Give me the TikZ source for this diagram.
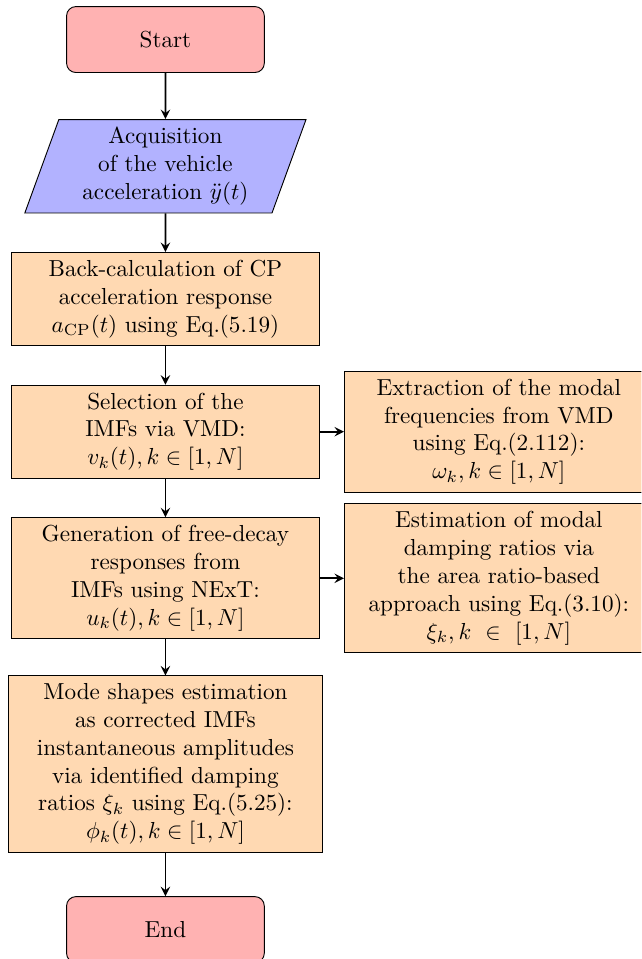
\documentclass[tikz,border=0pt]{standalone}
\usepackage{amsmath}
\usepackage{amssymb}
\usetikzlibrary{arrows.meta}
\usetikzlibrary{positioning}
\usetikzlibrary{shapes.geometric}

\begin{document}
\begin{tikzpicture}[node distance=0.585cm]
	\tikzset{
		T/.style={draw,rectangle,rounded corners,minimum width=3cm,minimum height=1cm,align=flush center,fill=red!30},
		IO/.style={draw,trapezium,trapezium left angle=70,trapezium right angle=110,text width=3cm,align=flush center,minimum height=1cm,fill=blue!30},
		P/.style={draw,rectangle,minimum width=3cm,minimum height=1cm,text width=4.45cm,align=flush center,fill=orange!30},
	}
	\clip (0,0) rectangle (9.73,-14.55);
	
	\node[T] (1) at (2.51,-0.60) {Start};
	\node[IO,below=0.70cm of 1] (2) {Acquisition\\ of the vehicle\\ acceleration $\ddot{y}(t)$};
	\node[P,below=of 2] (3) {Back-calculation of CP\\ acceleration response\\ $a_{\mathrm{CP}}(t)$ using Eq.(5.19)};
	\node[P,below=of 3] (4) {Selection of the\\ IMFs via VMD:\\ $v_k(t), k \in [1,N]$};
	\node[P,right=0.36cm of 4] (41) {Extraction of the modal\\ frequencies from VMD\\ using Eq.(2.112):\\ $\omega_k, k \in [1,N]$};
	\node[P,below=of 4] (5) {Generation of free-decay\\ responses from\\ IMFs using NExT:\\ $u_k(t), k \in [1,N]$};
	\node[P,right=0.36cm of 5] (51) {Estimation of modal\\ damping ratios via\\ the area ratio-based\\ approach using Eq.(3.10):\\ $\xi_k, k \ \in \ [1,N]$};
	\node[P,text width=4.52cm,below=0.55cm of 5] (6) {Mode shapes estimation\\ as corrected IMFs\\ instantaneous amplitudes\\ via identified damping\\ ratios $\xi_k$ using Eq.(5.25):\\ $\phi_k(t), k \in [1,N]$};
	\node[T,below=0.66cm of 6] (7) {End};
	
	\path[->,>=stealth,thick]
	(1) edge (2)
	(2) edge (3)
	(3) edge (4)
	(4) edge (5)
	(5) edge (6)
	(6) edge (7)
	(4) edge (41)
	(5) edge (51) ;
\end{tikzpicture}
\end{document}
